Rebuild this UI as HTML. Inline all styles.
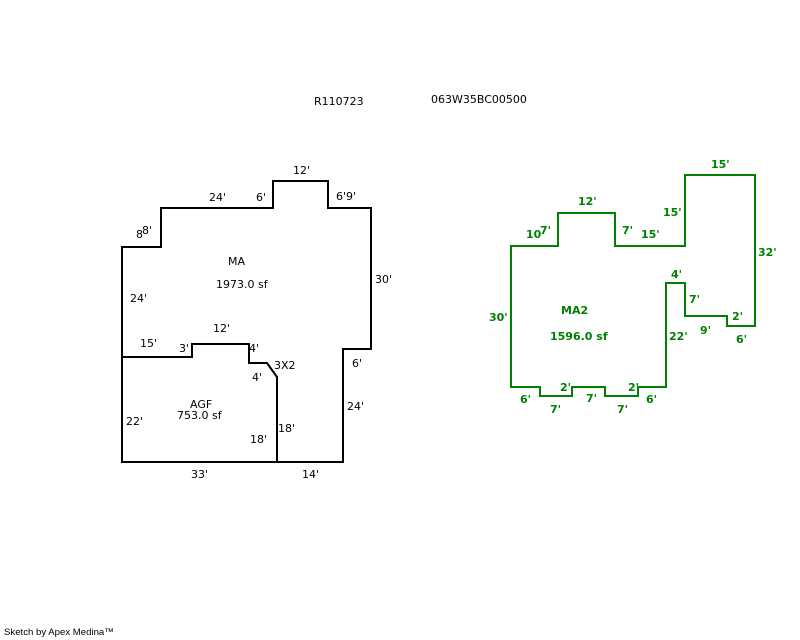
<!DOCTYPE html>
<html><head><meta charset="utf-8"><style>
html,body{margin:0;padding:0;background:#fff;width:800px;height:640px;overflow:hidden}
svg{display:block}
.b{font-family:"DejaVu Sans","Liberation Sans",sans-serif;font-size:11px;fill:#000}
.g{font-family:"DejaVu Sans","Liberation Sans",sans-serif;font-size:11px;font-weight:bold;fill:#008000}
.s{font-family:"Liberation Sans",sans-serif;font-size:9.6px;fill:#000}
</style></head><body>
<svg width="800" height="640" viewBox="0 0 800 640" xmlns="http://www.w3.org/2000/svg">
<rect width="800" height="640" fill="#fff"/>
<text class="b" x="314" y="105">R110723</text>
<text class="b" x="431" y="103">063W35BC00500</text>

<path d="M122,247 L161,247 L161,208 L273,208 L273,181 L328,181 L328,208 L371,208 L371,349 L343,349 L343,462 L122,462 Z" fill="none" stroke="#000" stroke-width="2"/>
<path d="M122,357 L192,357 L192,344 L249,344 L249,363 L267,363 L277,377 L277,462" fill="none" stroke="#000" stroke-width="2"/>

<text class="b" x="293" y="174">12'</text>
<text class="b" x="209" y="201">24'</text>
<text class="b" x="256" y="201">6'</text>
<text class="b" x="336" y="200">6'9'</text>
<text class="b" x="136" y="238">8</text>
<text class="b" x="142" y="234">8'</text>
<text class="b" x="228" y="265">MA</text>
<text class="b" x="216" y="288">1973.0 sf</text>
<text class="b" x="375" y="283">30'</text>
<text class="b" x="130" y="302">24'</text>
<text class="b" x="213" y="332">12'</text>
<text class="b" x="140" y="347">15'</text>
<text class="b" x="179" y="352">3'</text>
<text class="b" x="249" y="352">4'</text>
<text class="b" x="352" y="367">6'</text>
<text class="b" x="274" y="369">3X2</text>
<text class="b" x="252" y="381">4'</text>
<text class="b" x="190" y="408">AGF</text>
<text class="b" x="177" y="419">753.0 sf</text>
<text class="b" x="126" y="425">22'</text>
<text class="b" x="347" y="410">24'</text>
<text class="b" x="278" y="432">18'</text>
<text class="b" x="250" y="443">18'</text>
<text class="b" x="191" y="478">33'</text>
<text class="b" x="302" y="478">14'</text>

<path d="M511,246 L558,246 L558,213 L615,213 L615,246 L685,246 L685,175 L755,175 L755,326 L727,326 L727,316 L685,316 L685,283 L666,283 L666,387 L638,387 L638,396 L605,396 L605,387 L572,387 L572,396 L540,396 L540,387 L511,387 Z" fill="none" stroke="#008000" stroke-width="2"/>

<text class="g" x="711" y="168">15'</text>
<text class="g" x="578" y="205">12'</text>
<text class="g" x="663" y="216">15'</text>
<text class="g" x="526" y="238">10</text>
<text class="g" x="540" y="234">7'</text>
<text class="g" x="622" y="234">7'</text>
<text class="g" x="641" y="238">15'</text>
<text class="g" x="758" y="256">32'</text>
<text class="g" x="671" y="278">4'</text>
<text class="g" x="689" y="303">7'</text>
<text class="g" x="561" y="314">MA2</text>
<text class="g" x="489" y="321">30'</text>
<text class="g" x="732" y="320">2'</text>
<text class="g" x="700" y="334">9'</text>
<text class="g" x="550" y="340">1596.0 sf</text>
<text class="g" x="669" y="340">22'</text>
<text class="g" x="736" y="343">6'</text>
<text class="g" x="560" y="391">2'</text>
<text class="g" x="628" y="391">2'</text>
<text class="g" x="520" y="403">6'</text>
<text class="g" x="586" y="402">7'</text>
<text class="g" x="646" y="403">6'</text>
<text class="g" x="550" y="413">7'</text>
<text class="g" x="617" y="413">7'</text>

<text class="s" x="4" y="635">Sketch by Apex Medina™</text>
</svg>
</body></html>
